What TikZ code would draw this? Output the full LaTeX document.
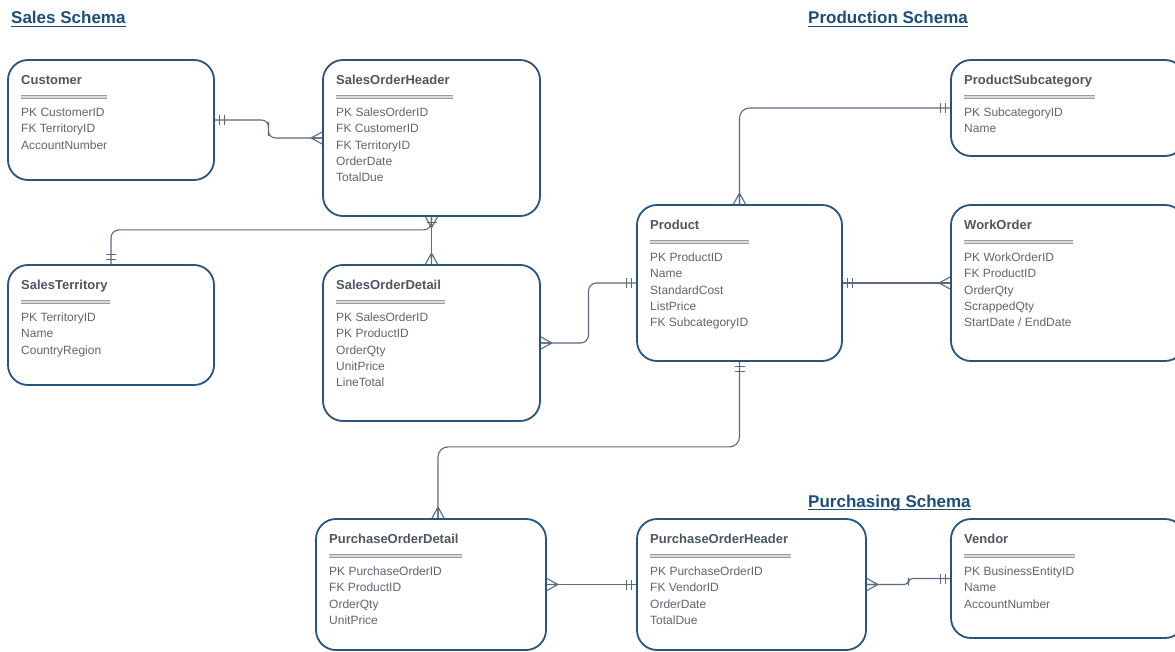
\documentclass[tikz,border=0pt]{standalone}
\usepackage{fontspec}
\setmainfont{Liberation Sans}
\usetikzlibrary{calc}
\definecolor{boxcol}{HTML}{28557D}
\definecolor{conncol}{HTML}{5A6A80}
\definecolor{titlecol}{HTML}{4D5763}
\definecolor{fieldcol}{HTML}{5E6670}
\definecolor{headcol}{HTML}{1F4E79}
\definecolor{rulecol}{HTML}{9E9E9E}
\definecolor{rulelight}{HTML}{D9D9D9}
\tikzset{
  ebox/.style={draw=boxcol, line width=1.8pt, rounded corners=20pt, inner sep=0pt},
  etitle/.style={anchor=base west, inner sep=0pt, text=titlecol, font=\fontsize{13}{15}\selectfont\bfseries},
  efield/.style={anchor=base west, inner sep=0pt, text=fieldcol, font=\fontsize{12}{14}\selectfont},
  erule/.style={draw=rulecol, double=rulelight, double distance=1.2pt, line width=1pt},
  conn/.style={draw=conncol, line width=1.1pt},
  heading/.style={anchor=base west, inner sep=0pt, text=headcol, font=\fontsize{17}{20}\selectfont\bfseries},
  hline/.style={draw=headcol, line width=1.3pt}
}
% #1 name #2 left #3 top #4 right #5 bottom #6 title #7 rule width #8 fields
\newcommand\erentity[8]{%
  \node[ebox, minimum width={#4-#2}, minimum height={#5-#3}] (#1) at ({(#2+#4)/2},{(#3+#5)/2}) {};
  \node[etitle] (#1-t) at ({#2+13},{#3+24.7}) {#6};
  \draw[erule] ({#2+13},{#3+37}) -- ++(#7,0);
  \foreach \f [count=\n] in {#8} {
    \node[efield] (#1-f\n) at ({#2+13},{#3+56.3+(\n-1)*16.4}) {\f};
  }
}
\newcommand\ercrow[2]{\draw[conn, shift={(#1)}, rotate=#2] (11,0) -- (0,6) (11,0) -- (0,-6) (11,0) -- (0,0);}
\newcommand\ertwobar[2]{\draw[conn, shift={(#1)}, rotate=#2] (5,-5) -- (5,5) (10,-5) -- (10,5);}
\newcommand\erbar[2]{\draw[conn, shift={(#1)}, rotate=#2] (6,-5) -- (6,5);}
\begin{document}
\begin{tikzpicture}[x=1pt, y=-1pt]
\useasboundingbox (0,0) rectangle (1175,652);
\fill[white] (0,0) rectangle (1175,652);

% headings
\node[heading] (hsales) at (11,24) {Sales Schema};
\draw[hline] ([yshift=-2.6pt]hsales.base west) -- ([yshift=-2.6pt]hsales.base east);
\node[heading] (hprod) at (808,24) {Production Schema};
\draw[hline] ([yshift=-2.6pt]hprod.base west) -- ([yshift=-2.6pt]hprod.base east);
\node[heading] (hpurch) at (808,507) {Purchasing Schema};
\draw[hline] ([yshift=-2.6pt]hpurch.base west) -- ([yshift=-2.6pt]hpurch.base east);

% entities
\erentity{cust}{8}{60}{214}{180}{Customer}{86}{PK CustomerID,FK TerritoryID,AccountNumber}
\erentity{soh}{323}{60}{540}{216}{SalesOrderHeader}{117}{PK SalesOrderID,FK CustomerID,FK TerritoryID,OrderDate,TotalDue}
\erentity{st}{8}{265}{214}{385}{SalesTerritory}{89}{PK TerritoryID,Name,CountryRegion}
\erentity{sod}{323}{265}{540}{421}{SalesOrderDetail}{109}{PK SalesOrderID,PK ProductID,OrderQty,UnitPrice,LineTotal}
\erentity{prod}{637}{205}{842}{361}{Product}{99}{PK ProductID,Name,StandardCost,ListPrice,FK SubcategoryID}
\erentity{psub}{951}{60}{1185}{156}{ProductSubcategory}{131}{PK SubcategoryID,Name}
\erentity{wo}{951}{205}{1185}{361}{WorkOrder}{109}{PK WorkOrderID,FK ProductID,OrderQty,ScrappedQty,StartDate / EndDate}
\erentity{pod}{316}{519}{546}{650}{PurchaseOrderDetail}{133}{PK PurchaseOrderID,FK ProductID,OrderQty,UnitPrice}
\erentity{poh}{637}{519}{866}{650}{PurchaseOrderHeader}{141}{PK PurchaseOrderID,FK VendorID,OrderDate,TotalDue}
\erentity{vend}{951}{519}{1185}{638}{Vendor}{111}{PK BusinessEntityID,Name,AccountNumber}

% connectors
\draw[conn, rounded corners=7pt] (cust.east) -| ($(cust.east)!0.5!(soh.west)$) |- (soh.west);
\draw[conn, rounded corners=8pt] (st.north) |- ([yshift=-13pt]soh.south) -- (soh.south);
\draw[conn] (soh.south) -- (sod.north);
\draw[conn, rounded corners=8pt] (sod.east) -| ($(sod.east)!0.5!(prod.west)$) |- (prod.west);
\draw[conn, rounded corners=10pt] (prod.north) |- (psub.west);
\draw[conn] (prod.east) -- (wo.west);
\coordinate (podin) at ([xshift=7pt]pod.north);
\draw[conn, rounded corners=10pt] (prod.south) -- ++(0,85) -| (podin);
\draw[conn] (pod.east) -- (poh.west);
\draw[conn, rounded corners=4pt] (poh.east) -| ($(poh.east)!0.5!(vend.west)$) |- (vend.west);

% cardinality marks
\ertwobar{cust.east}{0}
\ercrow{soh.west}{180}
\ertwobar{st.north}{90}
\ercrow{soh.south}{-90}
\erbar{soh.south}{-90}
\ercrow{sod.north}{90}
\ercrow{sod.east}{0}
\ertwobar{prod.west}{180}
\ercrow{prod.north}{90}
\ertwobar{psub.west}{180}
\ertwobar{prod.east}{0}
\ercrow{wo.west}{180}
\ertwobar{prod.south}{-90}
\ercrow{podin}{90}
\ercrow{pod.east}{0}
\ertwobar{poh.west}{180}
\ercrow{poh.east}{0}
\ertwobar{vend.west}{180}
\end{tikzpicture}
\end{document}
